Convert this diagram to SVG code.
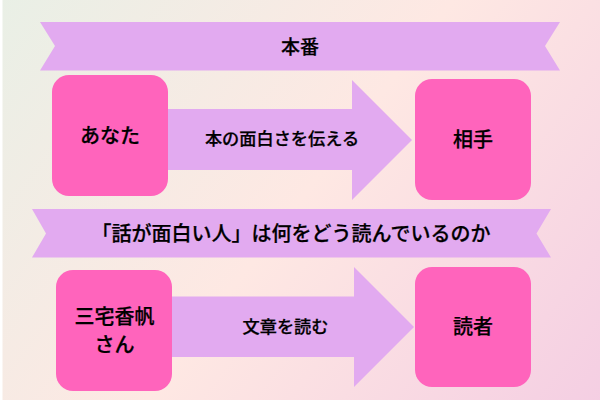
<svg xmlns="http://www.w3.org/2000/svg" width="600" height="400" viewBox="0 0 600 400">
<defs>
<linearGradient id="bg" gradientUnits="userSpaceOnUse" x1="0" y1="-30" x2="600" y2="430">
<stop offset="0" stop-color="#e8f0e6"/>
<stop offset="0.5" stop-color="#fee8e3"/>
<stop offset="1" stop-color="#f4cde3"/>
</linearGradient>
</defs>
<style>
.shape{fill:#e2aaf0}
.node{fill:#ff64bc}
text{font-family:"Noto Sans CJK JP","Noto Sans",sans-serif;font-weight:500;fill:#000;text-anchor:middle;stroke:#000;stroke-width:.25}
.t{font-size:19px}
.s{font-size:17.200px}
.b{font-size:20px}
</style>
<rect width="600" height="400" fill="#fff"/>
<rect x="2.5" y="0" width="597.5" height="400" fill="url(#bg)"/>
<g id="connectors">
<path class="shape" d="M168 109H352V80L412 140L352 200V170H168Z"/>
<path class="shape" d="M172 296.5H354V267L414 327L354 387V357H172Z"/>
</g>
<g id="banner-1"><path class="shape" d="M40 22H560L545 46L560 70.5H40L55 46Z"/><text class="t" x="300" y="53.500">本番</text></g>
<g id="banner-2"><path class="shape" d="M32 209H551L536.500 233.500L551 257.500H32L46 233.500Z"/><text class="b" x="291" y="241">「話が面白い人」は何をどう読んでいるのか</text></g>
<g id="node-anata"><rect class="node" x="52" y="75" width="116" height="121" rx="17"/><text class="b" x="110" y="143">あなた</text></g>
<g id="node-aite"><rect class="node" x="415" y="79" width="116" height="121" rx="17"/><text class="b" x="473" y="147">相手</text></g>
<g id="node-miyake"><rect class="node" x="56" y="270" width="116" height="121" rx="17"/><text class="b" x="114.500" y="324">三宅香帆</text><text class="b" x="114.500" y="352">さん</text></g>
<g id="node-dokusha"><rect class="node" x="415" y="267" width="116" height="120" rx="17"/><text class="b" x="473" y="334">読者</text></g>
<g id="label-1"><text class="s" x="282" y="145">本の面白さを伝える</text></g>
<g id="label-2"><text class="s" x="285.500" y="333">文章を読む</text></g>
</svg>
